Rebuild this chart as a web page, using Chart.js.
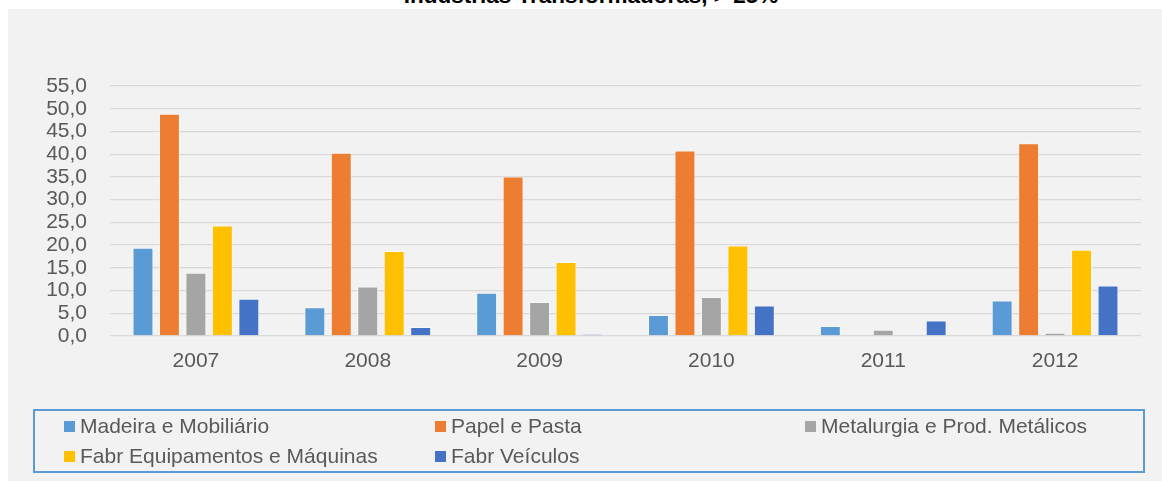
<!DOCTYPE html>
<html>
<head>
<meta charset="utf-8">
<script src="https://cdn.jsdelivr.net/npm/chart.js@4.4.1/dist/chart.umd.min.js"></script>
<style>
  html, body { margin: 0; padding: 0; background: #ffffff; width: 1162px; height: 481px; overflow: hidden; }
  #bg { position: absolute; left: 8px; top: 9px; width: 1154px; height: 472px; background: #f2f2f2; }
  #title { position: absolute; left: 0; width: 1182px; top: -15px; text-align: center; font: bold 22.5px "Liberation Sans", Arial, sans-serif; line-height: 22px; color: #000; white-space: nowrap; }
  #wrap { position: absolute; left: 0; top: 0; width: 1162px; height: 481px; }
  #legend { position: absolute; left: 33px; top: 409px; width: 1108px; height: 60px; border: 2px solid #5b9bd5; font: 21px "Liberation Sans", Arial, sans-serif; color: #595959; }
  .li { position: absolute; display: flex; align-items: center; white-space: nowrap; height: 24px; }
  .sq { width: 11px; height: 11px; margin-right: 5px; }
</style>
</head>
<body>
<div id="bg"></div>
<div id="title">Indústrias Transformadoras, &gt; 25%</div>
<div id="wrap"><canvas id="c" width="1162" height="481"></canvas></div>
<div id="legend"></div>
<script>
const categories = ["2007", "2008", "2009", "2010", "2011", "2012"];
const seriesNames = ["Madeira e Mobiliário", "Papel e Pasta", "Metalurgia e Prod. Metálicos", "Fabr Equipamentos e Máquinas", "Fabr Veículos"];
const madeira = [19.4, 6.3, 9.5, 4.6, 2.2, 7.8];
const papel = [48.9, 40.3, 35.1, 40.8, null, 42.4];
const metalurgia = [13.9, 10.9, 7.5, 8.6, 1.4, 0.7];
const equipamentos = [24.3, 18.7, 16.3, 19.9, null, 19.0];
const veiculos = [8.2, 2.0, 0.4, 6.7, 3.4, 11.1];
const yTicks = { min: 0, max: 55, step: 5 };

const colors = ["#5b9bd5", "#ed7d31", "#a5a5a5", "#ffc000", "#4472c4"];
const values = [madeira, papel, metalurgia, equipamentos, veiculos];
const FONT = '"Liberation Sans", Arial, sans-serif';

const chart = new Chart(document.getElementById('c'), {
  type: 'bar',
  data: {
    labels: categories,
    datasets: seriesNames.map((n, i) => ({
      label: n,
      data: values[i],
      backgroundColor: colors[i],
      borderColor: 'rgba(255,255,255,0.45)',
      borderWidth: 1,
      categoryPercentage: 0.77,
      barPercentage: 0.79
    }))
  },
  options: {
    responsive: false,
    animation: false,
    devicePixelRatio: 1,
    layout: { padding: { left: 0, right: 21, top: 86, bottom: 105 } },
    plugins: { legend: { display: false }, title: { display: false }, tooltip: { enabled: false } },
    scales: {
      x: {
        grid: { display: false, drawTicks: false },
        border: { display: false },
        ticks: { color: '#595959', font: { family: FONT, size: 21 }, padding: 13 },
        afterFit: s => { s.height = 40; }
      },
      y: {
        min: yTicks.min, max: yTicks.max,
        grid: { color: '#d9d9d9', lineWidth: 1.3, drawTicks: false },
        border: { display: false },
        ticks: {
          stepSize: yTicks.step,
          autoSkip: false,
          color: '#595959',
          font: { family: FONT, size: 21 },
          padding: 23,
          callback: v => Number(v).toFixed(1).replace('.', ',')
        },
        afterFit: s => { s.width = 110; }
      }
    }
  }
});

// legend built from the chart's datasets
const lg = document.getElementById('legend');
const colX = [29, 400, 770];
const rowY = [3, 33];
chart.data.datasets.forEach((ds, i) => {
  const d = document.createElement('div');
  d.className = 'li';
  d.style.left = colX[i % 3] + 'px';
  d.style.top = rowY[Math.floor(i / 3)] + 'px';
  const s = document.createElement('span');
  s.className = 'sq';
  s.style.background = ds.backgroundColor;
  d.appendChild(s);
  d.appendChild(document.createTextNode(ds.label));
  lg.appendChild(d);
});
</script>
</body>
</html>
